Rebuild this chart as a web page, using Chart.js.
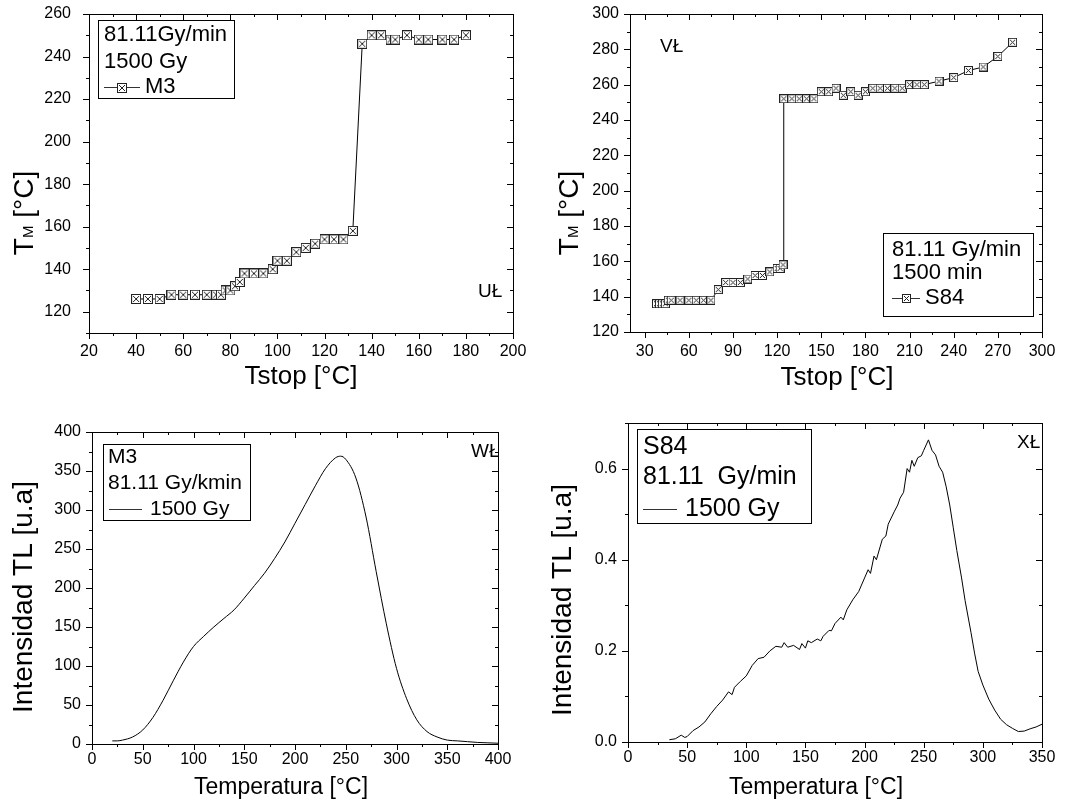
<!DOCTYPE html>
<html>
<head>
<meta charset="utf-8">
<script src="https://cdn.jsdelivr.net/npm/chart.js@4.4.1/dist/chart.umd.min.js"></script>
<style>
  body { margin: 0; background: #fff; width: 1065px; height: 812px; position: relative; overflow: hidden; }
  canvas { position: absolute; }
</style>
</head>
<body>
<canvas id="c1" width="532" height="400" style="left:0;top:0"></canvas>
<canvas id="c2" width="533" height="400" style="left:532px;top:0"></canvas>
<canvas id="c3" width="532" height="412" style="left:0;top:400px"></canvas>
<canvas id="c4" width="533" height="412" style="left:532px;top:400px"></canvas>
<script>
// M3, T_M vs Tstop
const m3Tstop = [40, 45, 50, 55, 60, 65, 70, 74, 76, 78, 80, 82, 84, 86, 90, 94, 98, 100, 104, 108,
  112, 116, 120, 124, 128, 132, 136, 140, 144, 148, 150, 155, 160, 164, 170, 175, 180];
const m3Tm = [126, 126, 126, 128, 128, 128, 128, 128, 128, 130, 130, 132, 134, 138, 138, 138, 140, 144, 144, 148,
  150, 152, 154, 154, 154, 158, 246, 250, 250, 248, 248, 250, 248, 248, 248, 248, 250];

// S84, T_M vs Tstop
const s84Tstop = [38, 40, 42, 44, 46, 48, 54, 60, 65, 70, 75, 80, 85, 90, 95, 100, 105, 110, 115, 120,
  122, 124, 124.5, 130, 135, 140, 145, 150, 155, 160, 165, 170, 175, 180, 185, 190, 195, 200, 205, 210,
  215, 220, 230, 240, 250, 260, 270, 280];
const s84Tm = [136, 136, 136, 136, 138, 138, 138, 138, 138, 138, 138, 144, 148, 148, 148, 150, 152, 152, 154, 156,
  156, 158, 252, 252, 252, 252, 252, 256, 256, 258, 254, 256, 254, 256, 258, 258, 258, 258, 258, 260,
  260, 260, 262, 264, 268, 270, 276, 284];

// M3 glow curve
const m3Temp = [20, 25, 30, 40, 50, 60, 70, 80, 90, 100, 110, 120, 130, 140, 150, 160, 170, 180, 190, 200,
  210, 220, 230, 240, 245, 250, 260, 270, 280, 290, 300, 310, 320, 330, 340, 350, 360, 370, 380, 390, 400];
const m3Tl = [4, 4, 5, 9, 18, 34, 56, 81, 105, 125, 138, 150, 161, 172, 187, 203, 219, 238, 259, 283,
  307, 331, 353, 367, 369, 365, 341, 291, 221, 154, 97, 58, 31, 16, 9, 5, 4, 3, 2, 1.5, 1];

// S84 glow curve
const s84Temp = [35, 40, 45, 48, 50, 55, 60, 65, 70, 75, 80, 85, 88, 90, 95, 100, 105, 110, 115, 120,
  125, 130, 132, 135, 140, 145, 147, 150, 152, 155, 160, 163, 165, 170, 172, 175, 180, 182, 185, 190,
  195, 200, 203, 205, 208, 210, 215, 218, 220, 225, 228, 230, 233, 236, 238, 240, 242, 245, 248, 250,
  254, 257, 260, 263, 266, 269, 272, 275, 278, 282, 285, 290, 293, 296, 300, 305, 310, 315, 320, 325,
  330, 335, 340, 345, 350];
const s84Tl = [0.005, 0.007, 0.015, 0.010, 0.012, 0.025, 0.033, 0.044, 0.062, 0.078, 0.092, 0.110, 0.104, 0.120, 0.133, 0.145, 0.168, 0.183, 0.186, 0.200,
  0.210, 0.208, 0.218, 0.208, 0.212, 0.203, 0.216, 0.206, 0.222, 0.218, 0.226, 0.222, 0.232, 0.245, 0.244, 0.260, 0.274, 0.268, 0.290, 0.312,
  0.330, 0.360, 0.378, 0.370, 0.408, 0.400, 0.445, 0.452, 0.478, 0.505, 0.520, 0.535, 0.548, 0.600, 0.592, 0.618, 0.605, 0.624, 0.628, 0.640,
  0.663, 0.640, 0.630, 0.605, 0.592, 0.560, 0.520, 0.470, 0.420, 0.360, 0.310, 0.240, 0.195, 0.155, 0.125, 0.094, 0.070, 0.050, 0.038, 0.030,
  0.023, 0.024, 0.029, 0.033, 0.039];

const FONT = '"Liberation Sans", Arial, sans-serif';
Chart.defaults.font.family = FONT;
Chart.defaults.color = '#000';

function boxX(size) {
  const c = document.createElement('canvas');
  c.width = size; c.height = size;
  const g = c.getContext('2d');
  g.fillStyle = '#fff';
  g.fillRect(0, 0, size, size);
  g.strokeStyle = '#222';
  g.lineWidth = 1;
  g.strokeRect(0.5, 0.5, size - 1, size - 1);
  g.beginPath();
  g.moveTo(2, 2); g.lineTo(size - 2, size - 2);
  g.moveTo(size - 2, 2); g.lineTo(2, size - 2);
  g.stroke();
  return c;
}

// frame, inward/outward ticks, titles, legend box, panel mark
const decor = {
  id: 'decor',
  afterDraw(chart, args, o) {
    const { ctx, chartArea: a } = chart;
    const x = chart.scales.x, y = chart.scales.y;
    ctx.save();
    ctx.strokeStyle = '#000';
    ctx.fillStyle = '#000';
    ctx.lineWidth = 1;
    ctx.strokeRect(a.left + 0.5, a.top + 0.5, a.right - a.left, a.bottom - a.top);
    ctx.beginPath();
    x.ticks.forEach(t => {
      const p = Math.round(x.getPixelForValue(t.value)) + 0.5;
      const l = t.label === '' ? 3 : 6;
      ctx.moveTo(p, a.bottom); ctx.lineTo(p, a.bottom + l);
      ctx.moveTo(p, a.top); ctx.lineTo(p, a.top + l);
    });
    y.ticks.forEach(t => {
      const p = Math.round(y.getPixelForValue(t.value)) + 0.5;
      const l = t.label === '' ? 3 : 6;
      ctx.moveTo(a.left - l, p); ctx.lineTo(a.left, p);
      ctx.moveTo(a.right - l, p); ctx.lineTo(a.right, p);
    });
    ctx.stroke();

    // x title
    ctx.textAlign = 'center';
    ctx.textBaseline = 'middle';
    ctx.font = o.xTitle.size + 'px ' + FONT;
    ctx.fillText(o.xTitle.text, o.xTitle.x, o.xTitle.y);

    // y title (parts allow a subscript)
    ctx.save();
    ctx.translate(o.yTitle.x, o.yTitle.y);
    ctx.rotate(-Math.PI / 2);
    ctx.textAlign = 'left';
    let total = 0;
    o.yTitle.parts.forEach(p => {
      ctx.font = p.size + 'px ' + FONT;
      p.w = ctx.measureText(p.text).width;
      total += p.w;
    });
    let cx = -total / 2;
    o.yTitle.parts.forEach(p => {
      ctx.font = p.size + 'px ' + FONT;
      ctx.fillText(p.text, cx, p.dy || 0);
      cx += p.w;
    });
    ctx.restore();

    // legend box
    const lg = o.legend;
    ctx.textAlign = 'left';
    ctx.strokeRect(a.left + lg.x + 0.5, a.top + lg.y + 0.5, lg.w, lg.h);
    ctx.font = lg.size + 'px ' + FONT;
    lg.lines.forEach((s, i) => ctx.fillText(s, a.left + lg.tx, a.top + lg.ly[i]));
    const sy = Math.round(a.top + lg.ly[lg.lines.length]) + 0.5;
    ctx.strokeStyle = '#333';
    ctx.beginPath();
    ctx.moveTo(a.left + lg.s0, sy);
    ctx.lineTo(a.left + lg.s1, sy);
    ctx.stroke();
    if (lg.marker) {
      const m = lg.marker;
      ctx.drawImage(m, Math.round(a.left + (lg.s0 + lg.s1) / 2 - m.width / 2), Math.round(sy - m.height / 2));
    }
    ctx.fillText(lg.label, a.left + lg.lx, a.top + lg.ly[lg.lines.length]);

    // panel mark
    ctx.font = o.mark.size + 'px ' + FONT;
    ctx.fillText(o.mark.text, a.left + o.mark.x, a.top + o.mark.y);
    ctx.restore();
  }
};

function axis(min, max, step, every, pad, size, fmt, bounds) {
  return {
    type: 'linear',
    min: min,
    max: max,
    grid: { display: false, drawTicks: false },
    border: { display: false },
    ticks: {
      stepSize: step,
      includeBounds: bounds !== false,
      autoSkip: false,
      maxRotation: 0,
      padding: pad,
      font: { size: 16 },
      color: '#000',
      callback: v => (Math.abs(v / every - Math.round(v / every)) < 1e-6 ? (fmt ? fmt(v) : String(v)) : '')
    },
    afterFit: s => {
      if (s.isHorizontal()) s.height = size; else s.width = size;
      s.paddingTop = 0; s.paddingBottom = 0; s.paddingLeft = 0; s.paddingRight = 0;
    }
  };
}

function makeChart(id, datasets, xs, ys, padding, deco) {
  return new Chart(document.getElementById(id), {
    type: 'scatter',
    data: { datasets: datasets },
    options: {
      responsive: false,
      animation: false,
      layout: { padding: padding },
      plugins: { legend: { display: false }, tooltip: { enabled: false }, decor: deco },
      scales: { x: xs, y: ys }
    },
    plugins: [decor]
  });
}

const mk1 = boxX(10);
const mk2 = boxX(9);

makeChart('c1', [{
  data: m3Tstop.map((v, i) => ({ x: v, y: m3Tm[i] })),
  showLine: true, borderColor: '#000', borderWidth: 1, tension: 0,
  pointStyle: mk1, pointRadius: 5
}],
  axis(20, 200, 10, 20, 9, 67),
  axis(110, 260, 10, 20, 18, 89),
  { top: 14, right: 19, left: 0, bottom: 0 },
  {
    xTitle: { text: 'Tstop [°C]', x: 301, y: 377, size: 26 },
    yTitle: { x: 25, y: 213, parts: [{ text: 'T', size: 28 }, { text: 'M', size: 15, dy: 4 }, { text: ' [°C]', size: 28 }] },
    legend: { x: 9, y: 6, w: 136, h: 78, size: 22, tx: 15, ly: [21, 48, 73], lines: ['81.11Gy/min', '1500 Gy'],
      s0: 15, s1: 51, lx: 56, label: 'M3', marker: mk1 },
    mark: { text: 'UŁ', x: 389, y: 278, size: 19 }
  });

makeChart('c2', [{
  data: s84Tstop.map((v, i) => ({ x: v, y: s84Tm[i] })),
  showLine: true, borderColor: '#000', borderWidth: 1, tension: 0,
  pointStyle: mk2, pointRadius: 5
}],
  axis(20, 300, 15, 30, 10, 68, null, false),
  axis(120, 300, 10, 20, 11, 98),
  { top: 14, right: 23, left: 0, bottom: 0 },
  {
    xTitle: { text: 'Tstop [°C]', x: 305, y: 378, size: 26 },
    yTitle: { x: 38, y: 213, parts: [{ text: 'T', size: 28 }, { text: 'M', size: 15, dy: 4 }, { text: ' [°C]', size: 28 }] },
    legend: { x: 253, y: 219, w: 150, h: 83, size: 22, tx: 262, ly: [236, 259, 284], lines: ['81.11 Gy/min', '1500 min'],
      s0: 262, s1: 290, lx: 295, label: 'S84', marker: mk2 },
    mark: { text: 'VŁ', x: 30, y: 33, size: 19 }
  });

makeChart('c3', [{
  data: m3Temp.map((v, i) => ({ x: v, y: m3Tl[i] })),
  showLine: true, borderColor: '#000', borderWidth: 1, cubicInterpolationMode: 'monotone',
  pointRadius: 0
}],
  axis(0, 400, 25, 50, 6, 68),
  axis(0, 400, 25, 50, 11, 92),
  { top: 32, right: 34, left: 0, bottom: 0 },
  {
    xTitle: { text: 'Temperatura [°C]', x: 281, y: 388, size: 23 },
    yTitle: { x: 24, y: 197, parts: [{ text: 'Intensidad TL [u.a]', size: 28 }] },
    legend: { x: 11, y: 12, w: 147, h: 76, size: 21, tx: 16, ly: [25, 51, 77], lines: ['M3', '81.11 Gy/kmin'],
      s0: 17, s1: 50, lx: 58, label: '1500 Gy', marker: null },
    mark: { text: 'WŁ', x: 379, y: 20, size: 19 }
  });

makeChart('c4', [{
  data: s84Temp.map((v, i) => ({ x: v, y: s84Tl[i] })),
  showLine: true, borderColor: '#000', borderWidth: 1, tension: 0,
  pointRadius: 0
}],
  axis(0, 350, 25, 50, 6, 70),
  axis(0, 0.7, 0.1, 0.2, 11, 96, v => v.toFixed(1)),
  { top: 23, right: 23, left: 0, bottom: 0 },
  {
    xTitle: { text: 'Temperatura [°C]', x: 284, y: 388, size: 23 },
    yTitle: { x: 31, y: 200, parts: [{ text: 'Intensidad TL [u.a]', size: 28 }] },
    legend: { x: 9, y: 6, w: 174, h: 94, size: 25, tx: 15, ly: [24, 54, 86], lines: ['S84', '81.11  Gy/min'],
      s0: 15, s1: 49, lx: 57, label: '1500 Gy', marker: null },
    mark: { text: 'XŁ', x: 389, y: 20, size: 19 }
  });
</script>
</body>
</html>
